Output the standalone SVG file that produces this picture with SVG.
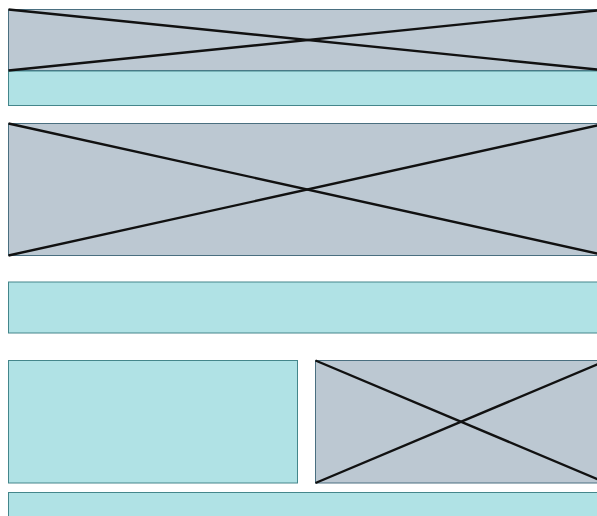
<svg xmlns="http://www.w3.org/2000/svg" width="597" height="516" viewBox="0 0 597 516">
<style>
.img{fill:#bcc8d2;stroke:#4a6f80;stroke-width:1}
.txt{fill:#b0e2e5;stroke:#44868b;stroke-width:1}
.x{stroke:#111;stroke-width:2.4;fill:none}
</style>
<rect width="597" height="516" fill="#ffffff"/>
<g id="node-header-image"><rect class="img" x="8.5" y="9.5" width="598" height="61"/></g>
<g id="node-header-bar"><rect class="txt" x="8.5" y="71" width="598" height="34.5"/></g>
<g id="node-banner-image"><rect class="img" x="8.5" y="123.5" width="598" height="132"/></g>
<g id="node-text-block"><rect class="txt" x="8.5" y="282" width="598" height="51"/></g>
<g id="node-left-block"><rect class="txt" x="8.5" y="360.5" width="289" height="122.5"/></g>
<g id="node-right-image"><rect class="img" x="315.5" y="360.5" width="291" height="122.5"/></g>
<g id="node-footer"><rect class="txt" x="8.5" y="492.5" width="598" height="40"/></g>
<g id="connectors">
<line class="x" x1="8.5" y1="9.5" x2="606.5" y2="70.5"/>
<line class="x" x1="8.5" y1="70.5" x2="606.5" y2="9.5"/>
<line class="x" x1="8.5" y1="123.5" x2="606.5" y2="255.5"/>
<line class="x" x1="8.5" y1="255.5" x2="606.5" y2="123.5"/>
<line class="x" x1="315.5" y1="360.5" x2="606.5" y2="483"/>
<line class="x" x1="315.5" y1="483" x2="606.5" y2="360.5"/>
</g>
</svg>
